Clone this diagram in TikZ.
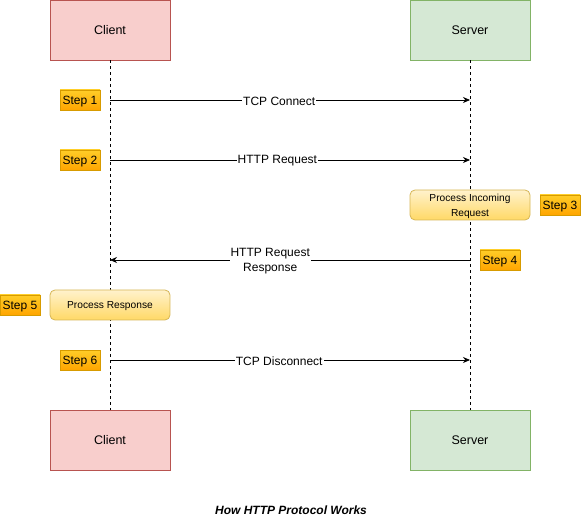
\documentclass[tikz,border=0pt]{standalone}
\usepackage{fontspec}
\setmainfont{Liberation Sans}
\usepackage{tikz}
\usetikzlibrary{arrows.meta}
\definecolor{clientfill}{HTML}{F8CECC}
\definecolor{clientline}{HTML}{B85450}
\definecolor{serverfill}{HTML}{D5E8D4}
\definecolor{serverline}{HTML}{82B366}
\definecolor{notetop}{HTML}{FFF2CC}
\definecolor{notebot}{HTML}{FFD966}
\definecolor{noteline}{HTML}{D6B656}
\definecolor{steptop}{HTML}{FFCD28}
\definecolor{stepbot}{HTML}{FFA500}
\definecolor{stepline}{HTML}{D79B00}
\tikzset{
  actor/.style={draw=#1line, fill=#1fill, line width=0.8pt, minimum width=120pt, minimum height=60pt, text depth=0pt, font=\fontsize{12.5}{14}\selectfont},
  stepbox/.style={draw=stepline, top color=steptop, bottom color=stepbot, line width=0.8pt, minimum width=40pt, minimum height=20pt, inner sep=0pt, text depth=0pt, font=\fontsize{12}{14}\selectfont},
  note/.style={draw=noteline, top color=notetop, bottom color=notebot, rounded corners=5pt, line width=0.8pt, minimum width=120pt, minimum height=30pt, inner sep=0pt, align=center, text depth=0pt, font=\fontsize{10.2}{15}\selectfont},
  msg/.style={-{Stealth[length=7pt,width=6pt]}, line width=0.8pt},
  msglabel/.style={fill=white, inner sep=1pt, align=center, font=\fontsize{12}{15}\selectfont},
  lifeline/.style={dash pattern=on 3pt off 3pt, line width=0.8pt}
}
\begin{document}
\begin{tikzpicture}[x=1pt, y=-1pt]
  \useasboundingbox (0,0) rectangle (581,521);
  \pgfmathsetmacro{\xc}{110}
  \pgfmathsetmacro{\xs}{470}

  % actors, top and bottom
  \node[actor=client] (client) at (\xc,30) {Client};
  \node[actor=server] (server) at (\xs,30) {Server};
  \node[actor=client] (clientend) at (\xc,440) {Client};
  \node[actor=server] (serverend) at (\xs,440) {Server};
  \draw[lifeline] (client.south) -- (clientend.north);
  \draw[lifeline] (server.south) -- (serverend.north);

  % steps
  \node[stepbox] (step1) at (80,100) {Step 1};
  \node[stepbox] (step2) at (80,160) {Step 2};
  \node[note] (incoming) at (\xs,205) {Process Incoming\\Request};
  \node[stepbox] (step3) at (560,205) {Step 3};
  \node[stepbox] (step4) at (500,260) {Step 4};
  \node[note] (response) at (\xc,305) {Process Response};
  \node[stepbox] (step5) at (20,305) {Step 5};
  \node[stepbox] (step6) at (80,360) {Step 6};

  % messages
  \coordinate (c1) at (\xc,100); \coordinate (s1) at (\xs,100);
  \coordinate (c2) at (\xc,160); \coordinate (s2) at (\xs,160);
  \coordinate (c4) at (\xc,260); \coordinate (s4) at (\xs,260);
  \coordinate (c6) at (\xc,360); \coordinate (s6) at (\xs,360);
  \draw[msg] (c1) -- node[msglabel, pos=0.47, yshift=-1pt] {TCP Connect} (s1);
  \draw[msg] (c2) -- node[msglabel, pos=0.465, yshift=-1pt] {HTTP Request} (s2);
  \draw[msg] (s4) -- node[msglabel, pos=0.555, yshift=-1pt] {HTTP Request\\Response} (c4);
  \draw[msg] (c6) -- node[msglabel, pos=0.47, yshift=-1pt] {TCP Disconnect} (s6);

  \node[font=\fontsize{12}{14}\selectfont\bfseries\itshape] (title) at (291,510) {How HTTP Protocol Works};
\end{tikzpicture}
\end{document}
